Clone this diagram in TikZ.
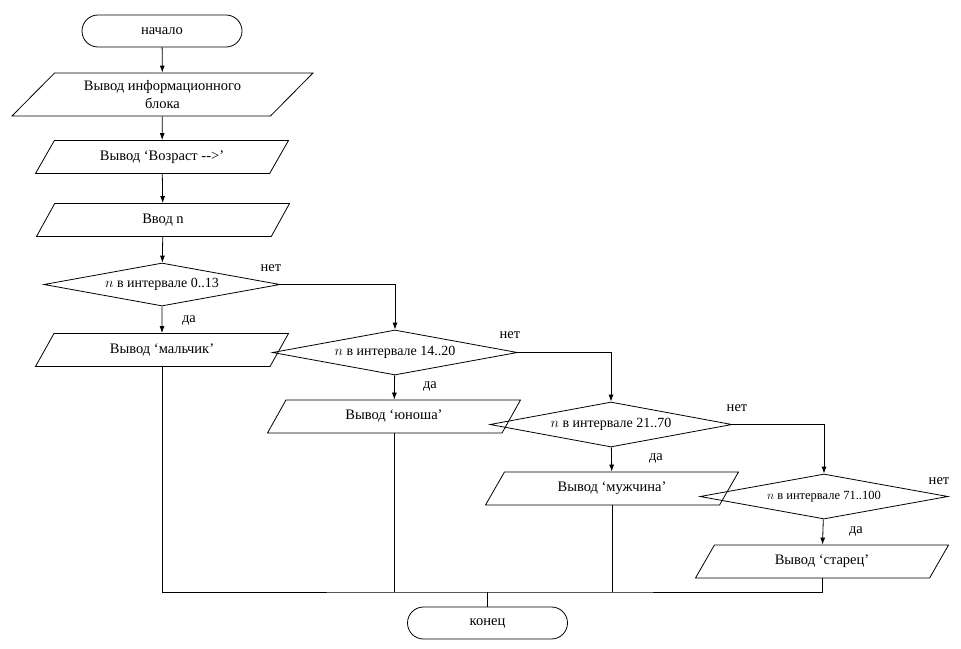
\documentclass[tikz,border=0pt]{standalone}
\usepackage{fontspec}
\setmainfont{Liberation Serif}
\usetikzlibrary{shapes.geometric,shapes.misc,arrows.meta}

\begin{document}
\begin{tikzpicture}[x=1pt, y=-1pt, line width=0.8pt,
  every node/.style={font=\fontsize{14.5}{18.5}\selectfont},
  term/.style={draw, rounded rectangle, minimum width=160pt, minimum height=32pt, inner sep=0pt},
  io/.style={draw, trapezium, trapezium left angle=34, trapezium right angle=146,
    trapezium stretches body, minimum width=#1, minimum height=33pt, inner sep=0pt, align=center},
  io/.default=253pt,
  cond/.style={draw, diamond, aspect=5, inner sep=0pt, minimum width=#1, minimum height=45pt,
    font=\fontsize{14}{16}\selectfont},
  arr/.style={-{Latex[length=7pt,width=5pt]}}]
  \useasboundingbox (0,0) rectangle (961,648);

  \node[term] (start) at (162,31) {начало};
  \node[io=301pt, minimum height=43pt] (info) at (162.5,94.5) {Вывод информационного\\блока};
  \node[io] (ask) at (162,157) {Вывод ‘Возраст -{}->’};
  \node[io] (inp) at (163,220) {Ввод n};

  \node[cond=236pt, minimum height=43pt] (d1) at (162,284.5) {$n$ в интервале 0..13};
  \node[io] (boy) at (162,350) {Вывод ‘мальчик’};
  \node[cond=245pt] (d2) at (395,352.5) {$n$ в интервале 14..20};
  \node[io] (teen) at (394,416.5) {Вывод ‘юноша’};
  \node[cond=242pt] (d3) at (611,424.5) {$n$ в интервале 21..70};
  \node[io] (man) at (612,488.5) {Вывод ‘мужчина’};
  \node[cond=248pt, font=\fontsize{12.5}{14}\selectfont] (d4) at (824,496.5) {$n$ в интервале 71..100};
  \node[io] (old) at (822,561.5) {Вывод ‘старец’};

  \node[term] (finish) at (487.5,623) {конец};

  % yes / no labels
  \node (no1) at (271,268) {нет};
  \node (yes1) at (189,320) {да};
  \node (no2) at (510,335) {нет};
  \node (yes2) at (430,386) {да};
  \node (no3) at (737,408) {нет};
  \node (yes3) at (656,458) {да};
  \node (no4) at (939,481) {нет};
  \node (yes4) at (856,531) {да};

  \draw[arr] (start) -- (info);
  \draw[arr] (info) -- (ask);
  \draw[arr] (ask) -- (inp);
  \draw[arr] (inp) -- (d1);
  \draw[arr] (d1) -- (boy);
  \draw[arr] (d1.east) -| (d2.north);
  \draw[arr] (d2) -- (teen);
  \draw[arr] (d2.east) -| (d3.north);
  \draw[arr] (d3) -- (man);
  \draw[arr] (d3.east) -| (d4.north);
  \draw[arr] (d4) -- (old);

  \coordinate (bus) at (487.5,592);
  \draw (boy.south) |- (bus) -| (old.south);
  \draw (teen.south) -- (teen.south |- bus);
  \draw (man.south) -- (man.south |- bus);
  \draw (bus) -- (finish.north);
\end{tikzpicture}
\end{document}
